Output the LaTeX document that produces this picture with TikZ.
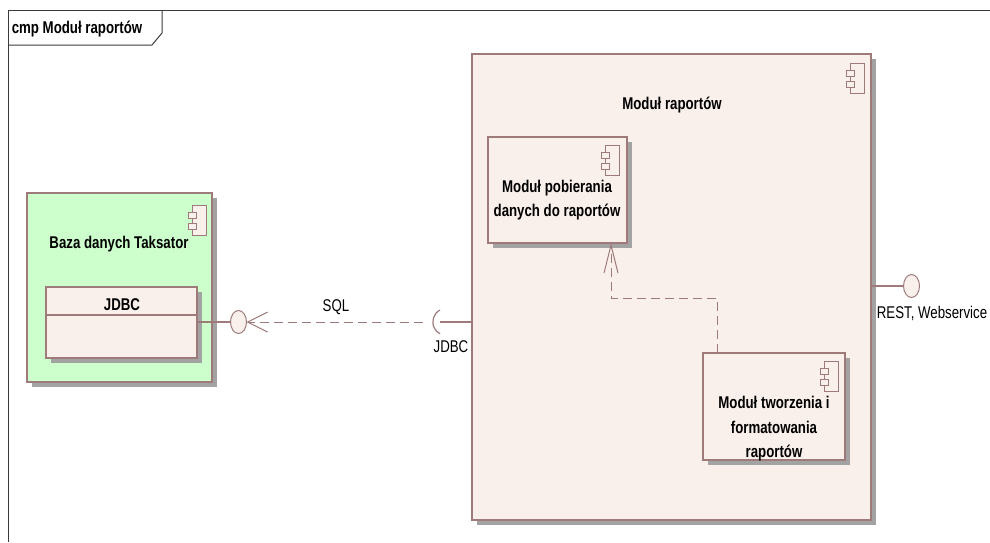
\documentclass[tikz,border=0pt]{standalone}
\usepackage{fontspec}
\setmainfont[FakeStretch=0.78]{Liberation Sans}
\usetikzlibrary{arrows.meta,shadows,shapes.geometric}
\definecolor{boxfill}{HTML}{F9EFEB}
\definecolor{boxline}{HTML}{9E7A7A}
\definecolor{greenfill}{HTML}{CCFFCC}
\definecolor{shadowgray}{HTML}{A3A3A3}
\definecolor{framecol}{HTML}{3A3A3A}
\begin{document}
\begin{tikzpicture}[x=1pt,y=-1pt,
  comp/.style={draw=boxline, line width=1.2pt, fill=boxfill, rectangle, inner sep=0pt, outer sep=0pt,
    general shadow={fill=shadowgray, shadow xshift=5pt, shadow yshift=-5pt}},
  lbl/.style={font=\fontsize{17}{24}\selectfont\bfseries, align=center, inner sep=0pt},
  txt/.style={font=\fontsize{17}{19}\selectfont, inner sep=0pt},
  dep/.style={draw=boxline, line width=1pt, dash pattern=on 9pt off 5pt},
  conn/.style={draw=boxline, line width=1.2pt},
  iface/.style={ellipse, draw=boxline, line width=1pt, fill=boxfill, minimum width=16pt, minimum height=23pt, inner sep=0pt, outer sep=0pt},
  compicon/.pic={
    \draw[boxline, line width=0.9pt, fill=boxfill] (-14,0) rectangle (0,30);
    \draw[boxline, line width=0.9pt, fill=boxfill] (-18,7) rectangle (-10,13);
    \draw[boxline, line width=0.9pt, fill=boxfill] (-18,18) rectangle (-10,24);
  }
]
\useasboundingbox (0,0) rectangle (990,542);
% frame
\draw[framecol, line width=1pt] (8,542) -- (8,10) -- (990,10);
\draw[framecol, line width=1pt] (8,45) -- (152,45) -- (162,33) -- (162,10);
\node[font=\fontsize{17}{19}\selectfont\bfseries, inner sep=0pt] (title) at (77,29) {cmp Moduł raportów};

% Baza danych Taksator
\node[comp, fill=greenfill, minimum width=185pt, minimum height=189pt] (baza) at (119.5,287.5) {};
\pic at (206,205) {compicon};
\node[lbl] (bazalbl) at (119,244) {Baza danych Taksator};
\node[comp, minimum width=151pt, minimum height=71pt] (jdbcbox) at (121.5,322.5) {};
\draw[boxline, line width=1.2pt] (jdbcbox.west |- 0,315) -- (jdbcbox.east |- 0,315);
\node[lbl] (jdbclbl) at (122,305) {JDBC};

% Modul raportow
\node[comp, minimum width=399pt, minimum height=466pt] (modul) at (671.5,287) {};
\pic at (864,63) {compicon};
\node[lbl] (modullbl) at (672,105) {Moduł raportów};

\node[comp, minimum width=139pt, minimum height=106pt] (pob) at (557.5,190) {};
\pic at (619,145) {compicon};
\node[lbl] (poblbl) at (557,200) {Moduł pobierania\\danych do raportów};

\node[comp, minimum width=142pt, minimum height=107pt] (tw) at (774,406.5) {};
\pic at (838,361) {compicon};
\node[lbl, font=\fontsize{17}{24.5}\selectfont\bfseries] (twlbl) at (774,429) {Moduł tworzenia i\\formatowania\\raportów};

% provided interface of Baza
\node[iface] (prov) at (238.5,322) {};
\draw[conn] (jdbcbox.east |- prov) -- (prov.west);

% required interface socket on Modul
\coordinate (sock) at (440,322);
\coordinate (sockend) at (423,322);
\draw[conn] (sock) -- (modul.west |- sock);
\draw[conn] (sock) ++(0,-12) arc[start angle=-118, end angle=-242, radius=13.5];
\draw[dep, -{Straight Barb[length=20pt, width=20pt, line width=1pt]}] (sockend) -- (prov.east);
\node[txt] (sqllbl) at (336,307) {SQL};
\node[txt] (jdbcreq) at (451,347) {JDBC};

% REST interface
\node[iface] (rest) at (911.5,286) {};
\draw[conn] (modul.east |- rest) -- (rest.west);
\node[txt] (restlbl) at (932,313) {REST, Webservice};

% dependency tworzenia -> pobierania
\coordinate (bend1) at (717,298);
\coordinate (bend2) at (611,298);
\draw[dep, -{Straight Barb[length=28pt, width=14pt, line width=1pt]}]
  (tw.north -| bend1) -- (bend1) -- (bend2) -- (pob.south -| bend2);
\end{tikzpicture}
\end{document}
